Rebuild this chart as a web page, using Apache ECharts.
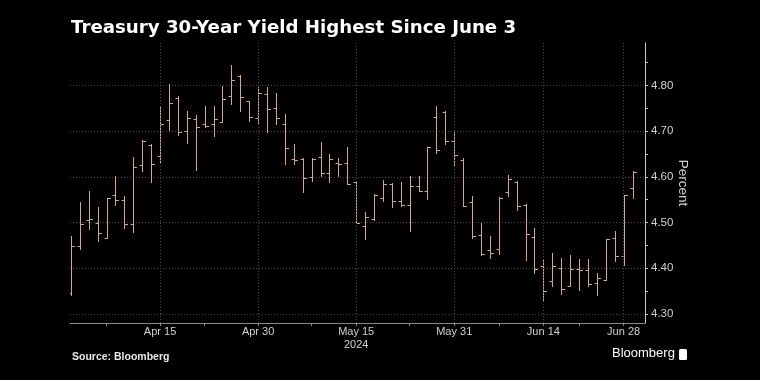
<!DOCTYPE html>
<html>
<head>
<meta charset="utf-8">
<script src="https://cdn.jsdelivr.net/npm/echarts@6/dist/echarts.min.js"></script>
<style>
html,body{margin:0;padding:0;background:#000;}
#chart{width:760px;height:380px;}
</style>
</head>
<body>
<div id="chart"></div>
<script>
// Trading days (categories)
var dates = ['Apr 1','Apr 2','Apr 3','Apr 4','Apr 5','Apr 8','Apr 9','Apr 10','Apr 11','Apr 12',
  'Apr 15','Apr 16','Apr 17','Apr 18','Apr 19','Apr 22','Apr 23','Apr 24','Apr 25','Apr 26',
  'Apr 29','Apr 30','May 1','May 2','May 3','May 6','May 7','May 8','May 9','May 10',
  'May 13','May 14','May 15','May 16','May 17','May 20','May 21','May 22','May 23','May 24',
  'May 28','May 29','May 30','May 31','Jun 3','Jun 4','Jun 5','Jun 6','Jun 7','Jun 10',
  'Jun 11','Jun 12','Jun 13','Jun 14','Jun 17','Jun 18','Jun 20','Jun 21','Jun 24','Jun 25',
  'Jun 26','Jun 27','Jun 28','Jul 1'];

var open = [4.345,4.448,4.506,4.499,4.466,4.561,4.550,4.497,4.626,4.670,
  4.645,4.724,4.772,4.700,4.726,4.715,4.715,4.721,4.776,4.820,
  4.765,4.728,4.782,4.750,4.716,4.639,4.639,4.599,4.643,4.609,
  4.631,4.630,4.588,4.492,4.508,4.554,4.584,4.548,4.539,4.581,
  4.569,4.731,4.741,4.679,4.637,4.545,4.473,4.439,4.441,4.567,
  4.589,4.539,4.468,4.404,4.372,4.400,4.361,4.399,4.397,4.368,
  4.374,4.467,4.427,4.576];
var high = [4.470,4.544,4.568,4.534,4.554,4.602,4.558,4.643,4.681,4.672,
  4.752,4.803,4.777,4.745,4.736,4.754,4.754,4.799,4.845,4.823,
  4.767,4.796,4.796,4.783,4.737,4.672,4.641,4.642,4.677,4.650,
  4.642,4.666,4.589,4.522,4.562,4.594,4.586,4.589,4.601,4.601,
  4.665,4.754,4.745,4.699,4.642,4.557,4.499,4.470,4.555,4.605,
  4.590,4.540,4.488,4.420,4.434,4.423,4.428,4.421,4.421,4.389,
  4.463,4.481,4.561,4.613];
var low = [4.342,4.442,4.486,4.459,4.465,4.539,4.489,4.479,4.613,4.588,
  4.632,4.703,4.692,4.675,4.614,4.710,4.690,4.721,4.759,4.745,
  4.723,4.718,4.699,4.716,4.628,4.628,4.566,4.590,4.601,4.588,
  4.602,4.584,4.499,4.463,4.506,4.546,4.535,4.537,4.482,4.568,
  4.552,4.652,4.672,4.626,4.537,4.466,4.428,4.423,4.431,4.559,
  4.528,4.417,4.390,4.330,4.360,4.343,4.360,4.352,4.361,4.341,
  4.374,4.416,4.408,4.554];
var close = [4.448,4.496,4.508,4.476,4.553,4.550,4.497,4.621,4.679,4.629,
  4.716,4.761,4.699,4.729,4.710,4.712,4.726,4.770,4.811,4.774,
  4.731,4.783,4.748,4.728,4.663,4.636,4.597,4.640,4.608,4.639,
  4.628,4.585,4.500,4.511,4.561,4.584,4.548,4.539,4.581,4.568,
  4.665,4.659,4.679,4.647,4.537,4.470,4.430,4.433,4.554,4.595,
  4.537,4.475,4.399,4.350,4.405,4.355,4.399,4.397,4.365,4.379,
  4.463,4.427,4.561,4.611];

// Axis tick labels (category indices and their text)
var xLabelIdx = [10, 21, 32, 43, 53, 62];
var xLabelText = ['Apr 15', 'Apr 30', 'May 15\n2024', 'May 31', 'Jun 14', 'Jun 28'];
var xTickIdx = [4, 10, 15, 21, 27, 32, 38, 43, 48, 53, 57, 62];
var yTickValues = [4.30, 4.35, 4.40, 4.45, 4.50, 4.55, 4.60, 4.65, 4.70, 4.75, 4.80, 4.85];

var BAR_COLOR = '#d2a68e';
var GRID_COLOR = '#4a4a4a';
var FONT = 'Liberation Sans';

var ohlc = open.map(function (o, i) { return [i, o, high[i], low[i], close[i]]; });

function renderItem(params, api) {
  var i = api.value(0);
  var o = api.coord([i, api.value(1)]);
  var h = api.coord([i, api.value(2)]);
  var l = api.coord([i, api.value(3)]);
  var c = api.coord([i, api.value(4)]);
  var x = Math.round(o[0]) + 0.5;
  var yo = Math.round(o[1]) + 0.5;
  var yc = Math.round(c[1]) + 0.5;
  var style = { stroke: BAR_COLOR, lineWidth: 1 };
  return {
    type: 'group',
    children: [
      { type: 'line', shape: { x1: x, y1: Math.round(h[1]), x2: x, y2: Math.round(l[1]) + 1 }, style: style },
      { type: 'line', shape: { x1: x - 3, y1: yo, x2: x, y2: yo }, style: style },
      { type: 'line', shape: { x1: x, y1: yc, x2: x + 3.5, y2: yc }, style: style }
    ]
  };
}

var chart = echarts.init(document.getElementById('chart'), null, { renderer: 'canvas' });
chart.setOption({
  backgroundColor: '#000',
  animation: false,
  title: {
    text: 'Treasury 30-Year Yield Highest Since June 3',
    left: 71, top: 19, padding: 0,
    textStyle: { color: '#fff', fontSize: 18.2, fontWeight: 'bold', fontFamily: 'DejaVu Sans' }
  },
  grid: { left: 70, right: 115, top: 43, bottom: 57 },
  xAxis: {
    type: 'value',
    min: -0.1, max: 64.4,
    axisLine: { show: true, onZero: false, lineStyle: { color: '#8a8a8a', width: 1 } },
    axisTick: { show: true, customValues: xTickIdx, length: 3, lineStyle: { color: '#8a8a8a' } },
    axisLabel: {
      customValues: xLabelIdx,
      formatter: function (v) { var k = xLabelIdx.indexOf(Math.round(v)); return k >= 0 ? xLabelText[k] : ''; },
      color: '#d0d0d0', fontSize: 11, fontFamily: FONT, margin: 2, lineHeight: 13
    },
    splitLine: { show: false }
  },
  yAxis: [{
    type: 'value',
    position: 'right',
    min: 4.28, max: 4.893,
    name: 'Percent',
    nameLocation: 'middle',
    nameRotate: -90,
    nameGap: 31,
    nameMoveOverlap: false,
    nameTextStyle: { color: '#d0d0d0', fontSize: 13.5, fontFamily: FONT },
    axisLine: { show: true, onZero: false, lineStyle: { color: '#c8c8c8', width: 1 } },
    axisTick: { show: false },
    axisLabel: {
      color: '#d0d0d0', fontSize: 11.5, fontFamily: FONT, margin: 6,
      showMinLabel: false, showMaxLabel: false,
      formatter: function (v) { return v.toFixed(2); }
    },
    splitLine: { show: true, showMinLine: false, showMaxLine: false, lineStyle: { color: GRID_COLOR, type: [1, 2], width: 1 } }
  }, {
    type: 'value',
    position: 'right',
    min: 4.28, max: 4.893,
    axisLine: { show: false, onZero: false },
    axisTick: { show: true, customValues: yTickValues, length: 3, lineStyle: { color: '#c8c8c8' } },
    axisLabel: { show: false },
    splitLine: { show: false }
  }],
  series: [{
    type: 'custom',
    renderItem: renderItem,
    clip: true,
    encode: { x: 0, y: [1, 2, 3, 4] },
    data: ohlc,
    markLine: {
      silent: true, symbol: 'none', animation: false,
      label: { show: false },
      lineStyle: { color: GRID_COLOR, type: [1, 2], width: 1 },
      data: xLabelIdx.map(function (v) { return { xAxis: v }; })
    },
    z: 3
  }],
  graphic: [
    { type: 'text', left: 72, top: 352, style: { text: 'Source: Bloomberg', fill: '#e8e8e8', font: 'bold 10.5px "Liberation Sans"' } },
    { type: 'text', left: 612, top: 347, style: { text: 'Bloomberg', fill: '#ffffff', font: '13px "Liberation Sans"' } },
    { type: 'rect', left: 679, top: 349, shape: { width: 8, height: 11, r: 1.5 }, style: { fill: '#ffffff' } }
  ]
});
</script>
</body>
</html>
